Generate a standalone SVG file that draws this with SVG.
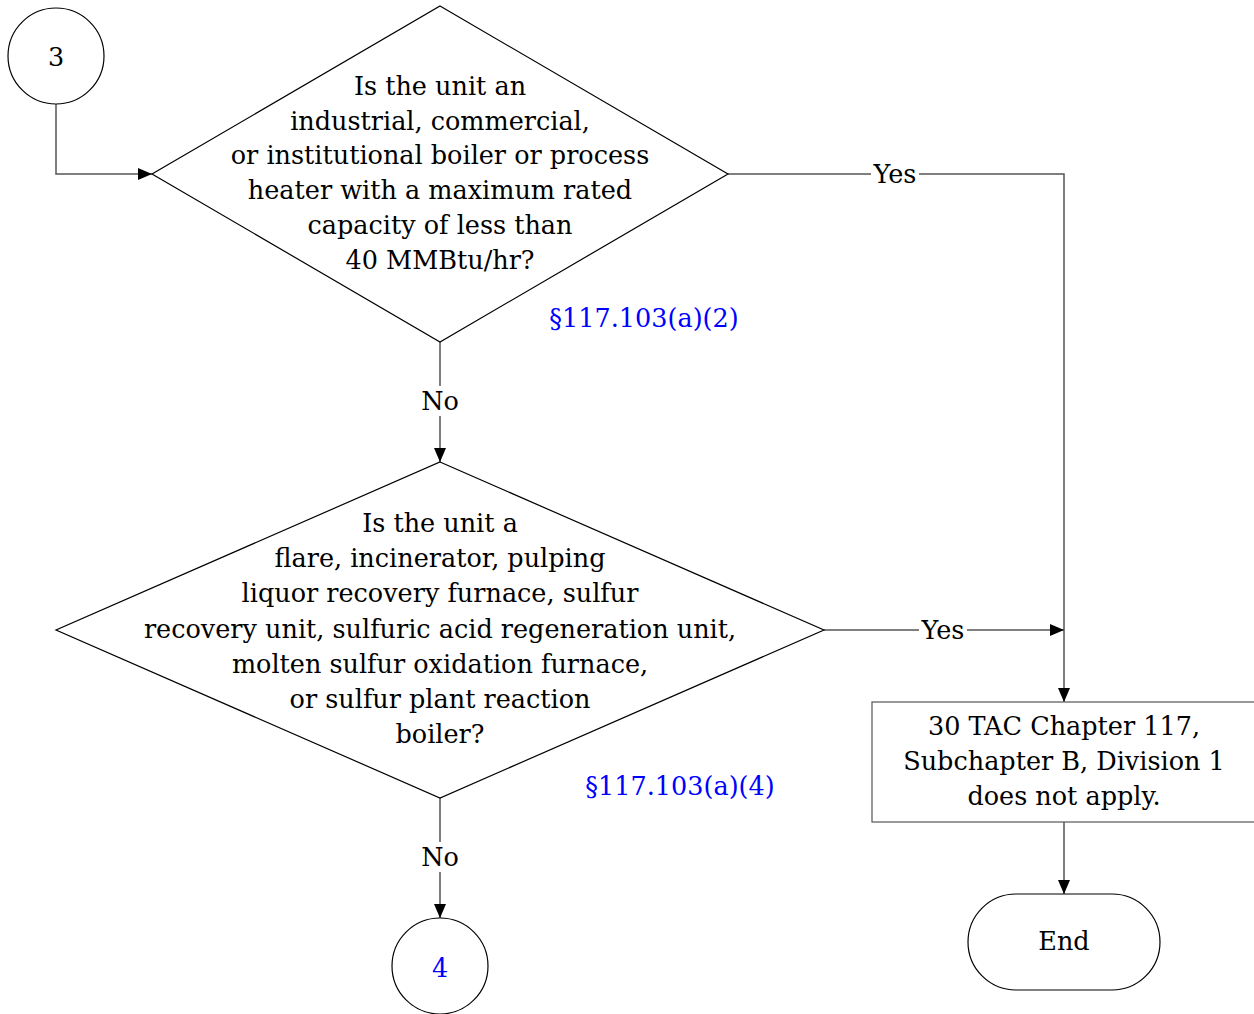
<svg xmlns="http://www.w3.org/2000/svg" width="1254" height="1014" viewBox="0 0 1254 1014">
<defs>
<marker id="arr" markerWidth="14" markerHeight="12" refX="14" refY="6" orient="auto" markerUnits="userSpaceOnUse">
<path d="M0,0 L14,6 L0,12 Z" fill="#000"/>
</marker>
<style>
.shape{fill:#fff;stroke:#000;stroke-width:1.2}
.box{fill:#fff;stroke:#555;stroke-width:1.2}
.conn{fill:none;stroke:#555;stroke-width:1.5}
text{font-family:"DejaVu Serif","Liberation Serif",serif;font-size:25.5px;fill:#000;text-anchor:middle}
.blue{fill:#0000ff}
.lbl{dominant-baseline:central}
</style>
</defs>
<rect width="1254" height="1014" fill="#fff"/>
<g id="connectors">
<path class="conn" d="M56,104 V174 H152" marker-end="url(#arr)"/>
<path class="conn" d="M728,174 H1064 V702" marker-end="url(#arr)"/>
<path class="conn" d="M440,342 V462" marker-end="url(#arr)"/>
<path class="conn" d="M824,630 H1064" marker-end="url(#arr)"/>
<path class="conn" d="M440,798 V918" marker-end="url(#arr)"/>
<path class="conn" d="M1064,822 V894" marker-end="url(#arr)"/>
<rect x="871" y="160" width="48" height="28" fill="#fff"/>
<text class="lbl" x="895" y="174">Yes</text>
<rect x="919" y="616" width="48" height="28" fill="#fff"/>
<text class="lbl" x="943" y="630">Yes</text>
<rect x="417" y="386" width="46" height="30" fill="#fff"/>
<text class="lbl" x="440" y="401">No</text>
<rect x="417" y="842" width="46" height="30" fill="#fff"/>
<text class="lbl" x="440" y="857">No</text>
</g>
<g id="start3">
<circle class="shape" cx="56" cy="56" r="48"/>
<text class="lbl" x="56" y="57">3</text>
</g>
<g id="decision1">
<polygon class="shape" points="440,6 728,174 440,342 152,174"/>
<text class="lbl" x="440" y="86">Is the unit an</text>
<text class="lbl" x="440" y="121">industrial, commercial,</text>
<text class="lbl" x="440" y="155">or institutional boiler or process</text>
<text class="lbl" x="440" y="190">heater with a maximum rated</text>
<text class="lbl" x="440" y="225">capacity of less than</text>
<text class="lbl" x="440" y="260">40 MMBtu/hr?</text>
<text class="lbl blue" x="644" y="318">§117.103(a)(2)</text>
</g>
<g id="decision2">
<polygon class="shape" points="440,462 824,630 440,798 56,630"/>
<text class="lbl" x="440" y="523">Is the unit a</text>
<text class="lbl" x="440" y="558">flare, incinerator, pulping</text>
<text class="lbl" x="440" y="593">liquor recovery furnace, sulfur</text>
<text class="lbl" x="440" y="629">recovery unit, sulfuric acid regeneration unit,</text>
<text class="lbl" x="440" y="664">molten sulfur oxidation furnace,</text>
<text class="lbl" x="440" y="699">or sulfur plant reaction</text>
<text class="lbl" x="440" y="734">boiler?</text>
<text class="lbl blue" x="680" y="786">§117.103(a)(4)</text>
</g>
<g id="result">
<rect class="box" x="872" y="702" width="390" height="120"/>
<text class="lbl" x="1064" y="726">30 TAC Chapter 117,</text>
<text class="lbl" x="1064" y="761">Subchapter B, Division 1</text>
<text class="lbl" x="1064" y="796">does not apply.</text>
</g>
<g id="end">
<rect class="shape" x="968" y="894" width="192" height="96" rx="48" ry="48"/>
<text class="lbl" x="1064" y="941">End</text>
</g>
<g id="conn4">
<circle class="shape" cx="440" cy="966" r="48"/>
<text class="lbl blue" x="440" y="968">4</text>
</g>
</svg>
